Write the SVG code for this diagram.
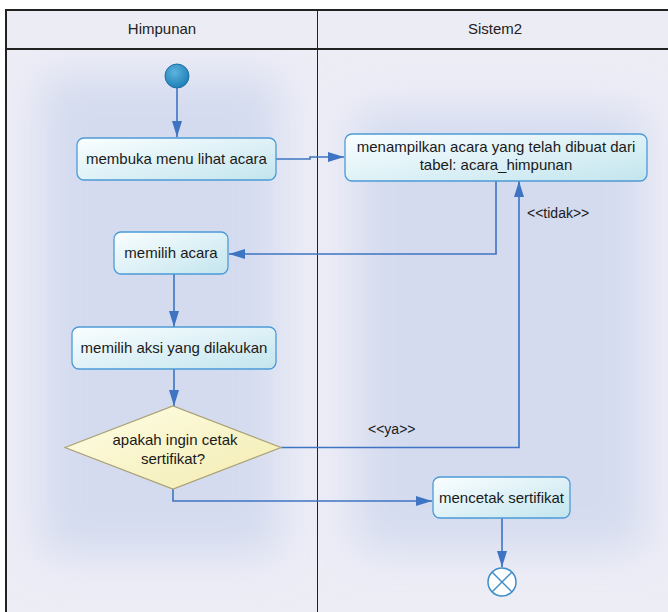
<svg xmlns="http://www.w3.org/2000/svg" width="668" height="612" viewBox="0 0 668 612">
  <defs>
    <style>
      .lbl { font-family: "Liberation Sans", Arial, sans-serif; font-size: 15px; fill: #1a1a1a; text-anchor: middle; }
      .hdr { font-family: "Liberation Sans", Arial, sans-serif; font-size: 15px; fill: #222; text-anchor: middle; }
      .guard { font-family: "Liberation Sans", Arial, sans-serif; font-size: 14px; fill: #1a1a1a; }
      .node { fill: url(#nodeGrad); stroke: #4C9AD6; stroke-width: 1.3; }
      .conn { fill: none; stroke: #3E74C2; stroke-width: 1.6; marker-end: url(#arrow); }
      .conn-plain { fill: none; stroke: #3E74C2; stroke-width: 1.6; }
    </style>
    <linearGradient id="nodeGrad" x1="0" y1="0" x2="1" y2="1">
      <stop offset="0" stop-color="#FAFEFF"/>
      <stop offset="1" stop-color="#C3E5EE"/>
    </linearGradient>
    <linearGradient id="decGrad" x1="0" y1="0" x2="1" y2="1">
      <stop offset="0" stop-color="#FFFEE8"/>
      <stop offset="1" stop-color="#F2EBAE"/>
    </linearGradient>
    <radialGradient id="initGrad" cx="0.4" cy="0.35" r="0.7">
      <stop offset="0" stop-color="#5DB3DD"/>
      <stop offset="1" stop-color="#1A7DB6"/>
    </radialGradient>
    <filter id="blur" x="-30%" y="-30%" width="160%" height="160%">
      <feGaussianBlur stdDeviation="22"/>
    </filter>
    <marker id="arrow" viewBox="0 0 16 10" refX="16" refY="5" markerWidth="16" markerHeight="10" markerUnits="userSpaceOnUse" orient="auto">
      <path d="M0,0 L16,5 L0,10 Z" fill="#3E74C2"/>
    </marker>
  </defs>

  <!-- swimlane pool -->
  <g id="pool">
    <rect x="6" y="10" width="662" height="602" fill="#EDEDF6"/>
    <rect x="40" y="75" width="240" height="480" fill="#D4DBEF" filter="url(#blur)"/>
    <rect x="355" y="110" width="290" height="440" fill="#D4DBEF" filter="url(#blur)"/>
    <rect x="6" y="10" width="662" height="39" fill="#ECECF5"/>
    <line x1="6" y1="10" x2="668" y2="10" stroke="#222" stroke-width="2"/>
    <line x1="6" y1="49" x2="668" y2="49" stroke="#222" stroke-width="2"/>
    <line x1="6" y1="9" x2="6" y2="612" stroke="#222" stroke-width="2"/>
    <line x1="317.5" y1="10" x2="317.5" y2="612" stroke="#222" stroke-width="1"/>
    <text class="hdr" x="162" y="34">Himpunan</text>
    <text class="hdr" x="495" y="34">Sistem2</text>
  </g>

  <g id="connectors">
    <path class="conn" d="M177,88 L177,137"/>
    <path class="conn" d="M276,159 L310,159 L310,157 L344,157"/>
    <path class="conn" d="M496,181 L496,254 L229,254"/>
    <path class="conn" d="M174,274 L174,327"/>
    <path class="conn" d="M174,369 L174,406"/>
    <path class="conn" d="M281,447.5 L519,447.5 L519,181"/>
    <path class="conn" d="M173,489 L173,501 L432,501"/>
    <path class="conn" d="M502,518 L502,567"/>
    <text class="guard" x="527" y="218">&lt;&lt;tidak&gt;&gt;</text>
    <text class="guard" x="368" y="434">&lt;&lt;ya&gt;&gt;</text>
  </g>

  <g id="start">
    <circle cx="177" cy="76" r="12" fill="url(#initGrad)" stroke="#1F6FA5" stroke-width="1"/>
  </g>

  <g id="membuka">
    <rect class="node" x="77" y="138" width="199" height="42" rx="7"/>
    <text class="lbl" x="176.5" y="164">membuka menu lihat acara</text>
  </g>

  <g id="menampilkan">
    <rect class="node" x="345" y="134" width="302" height="47" rx="7"/>
    <text class="lbl" x="496" y="152">menampilkan acara yang telah dibuat dari</text>
    <text class="lbl" x="496" y="170">tabel: acara_himpunan</text>
  </g>

  <g id="memilih-acara">
    <rect class="node" x="114" y="232" width="114" height="42" rx="7"/>
    <text class="lbl" x="171" y="258">memilih acara</text>
  </g>

  <g id="memilih-aksi">
    <rect class="node" x="72" y="327" width="204" height="42" rx="7"/>
    <text class="lbl" x="174" y="353">memilih aksi yang dilakukan</text>
  </g>

  <g id="decision">
    <polygon points="65,447.5 173,406 281,447.5 173,489" fill="url(#decGrad)" stroke="#A9A172" stroke-width="1.2"/>
    <text class="lbl" x="175" y="445">apakah ingin cetak</text>
    <text class="lbl" x="173" y="464">sertifikat?</text>
  </g>

  <g id="mencetak">
    <rect class="node" x="433" y="477" width="137" height="41" rx="7"/>
    <text class="lbl" x="501.5" y="503">mencetak sertifikat</text>
  </g>

  <g id="end">
    <circle cx="502" cy="582" r="14" fill="#FFFFFF" stroke="#3E8CC8" stroke-width="1.5"/>
    <line x1="492" y1="572" x2="512" y2="592" stroke="#3E8CC8" stroke-width="1.5"/>
    <line x1="512" y1="572" x2="492" y2="592" stroke="#3E8CC8" stroke-width="1.5"/>
  </g>
</svg>
